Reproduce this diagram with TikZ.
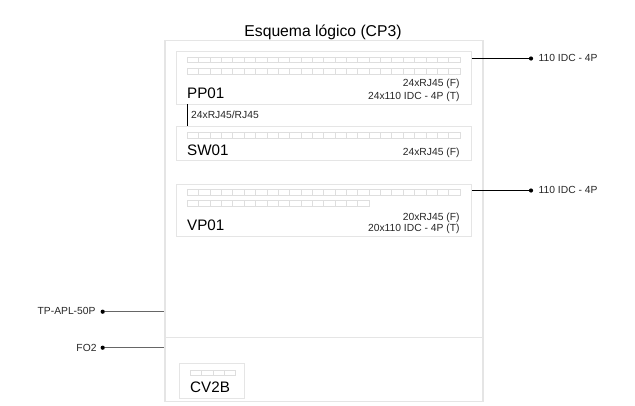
\documentclass[tikz,border=0pt]{standalone}
\usepackage{fontspec}
\setmainfont{Liberation Sans}
\tikzset{
  x=1pt,y=-1pt,
  frame/.style={draw=black!10,line width=1.2pt,fill=white,inner sep=0pt,anchor=north west},
  port/.style={draw=black!13,line width=0.9pt,fill=white,inner sep=0pt,anchor=north west,minimum width=11.36pt,minimum height=5.6pt},
  wire/.style={draw=black,line width=0.7pt},
  greywire/.style={draw=black!60,line width=0.9pt},
  jointdot/.style={circle,fill=black,inner sep=0pt,minimum size=4.2pt},
  idlabel/.style={font=\fontsize{15.2}{17}\selectfont,anchor=base west,inner sep=0pt},
  smalltext/.style={font=\fontsize{10.3}{12}\selectfont,text=black!85,inner sep=0pt},
}
\newcommand{\portrow}[4]{% prefix, x, y, count
  \foreach \i in {1,...,#4}{\node[port] (#1\i) at ({#2+(\i-1)*11.36},#3) {};}}
\begin{document}
\begin{tikzpicture}
\useasboundingbox (0,0) rectangle (635,405);
\node[font=\fontsize{15.7}{18}\selectfont,inner sep=0pt,anchor=base] (title) at (323,36.7) {Esquema lógico (CP3)};
\node[frame,minimum width=318pt,minimum height=361pt] (outer) at (164.3,39.7) {};
\coordinate (divL) at (164.3,337.7);
\coordinate (divR) at (482.3,337.7);
\draw[draw=black!10,line width=1.2pt] (divL) -- (divR);
% PP01
\node[frame,minimum width=295pt,minimum height=53pt] (pp) at (175.6,51) {};
\portrow{ppa}{187}{56.8}{24}
\portrow{ppb}{187}{68}{24}
\node[idlabel] (ppname) at (187,98.3) {PP01};
\node[smalltext,anchor=base east] (ppf) at (459.7,86.7) {24xRJ45 (F)};
\node[smalltext,anchor=base east] (ppt) at (459.7,99) {24x110 IDC - 4P (T)};
% SW01
\node[frame,minimum width=295pt,minimum height=34pt] (sw) at (175.6,126) {};
\portrow{swa}{187}{132}{24}
\node[idlabel] (swname) at (187,155) {SW01};
\node[smalltext,anchor=base east] (swf) at (459.7,155.5) {24xRJ45 (F)};
% VP01
\node[frame,minimum width=295pt,minimum height=52.5pt] (vp) at (175.6,183.7) {};
\portrow{vpa}{187}{189}{24}
\portrow{vpb}{187}{200.3}{16}
\node[idlabel] (vpname) at (187,230) {VP01};
\node[smalltext,anchor=base east] (vpf) at (459.7,220) {20xRJ45 (F)};
\node[smalltext,anchor=base east] (vpt) at (459.7,231.7) {20x110 IDC - 4P (T)};
% CV2B
\node[frame,minimum width=65.5pt,minimum height=34.7pt] (cv) at (178.7,363) {};
\portrow{cva}{190}{369.7}{4}
\node[idlabel] (cvname) at (190,392.3) {CV2B};
% connectors
\coordinate (swtop) at (187,126);
\coordinate (ppbot) at (187,104);
\draw[wire] (ppbot) -- (swtop);
\node[smalltext,anchor=base west] (patch) at (191,118.3) {24xRJ45/RJ45};
\node[jointdot] (ppdot) at (531,58.5) {};
\node[smalltext,anchor=base west] (pplab) at (538.5,61.8) {110 IDC - 4P};
\draw[wire] (pp.east |- ppdot) -- (ppdot);
\node[jointdot] (vpdot) at (531,190.5) {};
\node[smalltext,anchor=base west] (vplab) at (538.5,193.5) {110 IDC - 4P};
\draw[wire] (vp.east |- vpdot) -- (vpdot);
\node[jointdot] (tpdot) at (102.7,311.7) {};
\node[smalltext,anchor=base east] (tplab) at (95.7,314.5) {TP-APL-50P};
\draw[greywire] (tpdot) -- (outer.west |- tpdot);
\node[jointdot] (fodot) at (102.7,347.7) {};
\node[smalltext,anchor=base east] (folab) at (96.7,351) {FO2};
\draw[greywire] (fodot) -- (outer.west |- fodot);
\end{tikzpicture}
\end{document}
